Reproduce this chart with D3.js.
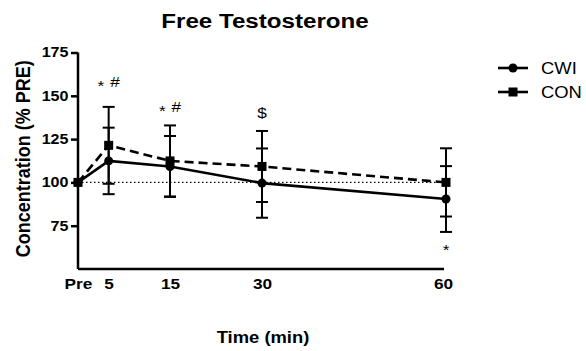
<!DOCTYPE html>
<html>
<head>
<meta charset="utf-8">
<script src="https://cdn.jsdelivr.net/npm/d3@7"></script>
<style>
  html, body { margin: 0; padding: 0; background: #fff; }
  svg { display: block; font-family: "Liberation Sans", Arial, sans-serif; }
</style>
</head>
<body>
<svg id="chart" width="586" height="351"></svg>
<script>
// Time points (minutes after exercise; "Pre" = 0)
const times = [0, 5, 15, 30, 60];
const timeLabels = ["Pre", "5", "15", "30", "60"];

// Free testosterone, % of PRE
const cwiMean = [100, 112.4, 109.2, 99.6, 90.4];
const cwiSD   = [0, 19.2, 17.6, 20.0, 19.0];
const conMean = [100, 121.4, 112.4, 109.2, 100];
const conSD   = [0, 22.2, 20.5, 20.5, 19.7];

// Significance markers: time point and vertical position (axis units)
const markerTimes  = [5, 15, 30, 60];
const markerTexts  = ["* #", "* #", "$", "*"];
const markerLevels = [158, 143.5, 140, 63];

const yTicks = [75, 100, 125, 150, 175];

// Horizontal stretch applied to all lettering
const SX = 1.15;

const svg = d3.select("#chart");

const x = d3.scaleLinear().domain([0, 60]).range([78, 446]);
const y = d3.scaleLinear().domain([50, 175]).range([269, 52.5]);

function label(px, py, txt, size, weight, anchor, rotate) {
  return svg.append("text")
    .attr("transform", `translate(${px},${py}) scale(${SX},1)` + (rotate ? ` rotate(${rotate})` : ""))
    .attr("text-anchor", anchor || "middle")
    .attr("font-size", size)
    .attr("font-weight", weight || "normal")
    .attr("fill", "#000")
    .text(txt);
}

// Title
label(265, 28, "Free Testosterone", 21, "bold");

// Y axis
const yAxis = d3.axisLeft(y).tickValues(yTicks).tickSize(7).tickPadding(2);
const gy = svg.append("g").attr("transform", `translate(${x(0)},0)`).call(yAxis);
gy.select(".domain").attr("stroke", "#000").attr("stroke-width", 2.5)
  .attr("d", `M0,${y(175)}V${y(50)}`);
gy.selectAll(".tick line").attr("stroke", "#000").attr("stroke-width", 2.5);
gy.selectAll(".tick text")
  .attr("font-size", 14).attr("font-weight", "bold").attr("fill", "#000")
  .attr("font-family", "Liberation Sans, Arial, sans-serif")
  .attr("x", -9.5 / SX)
  .attr("transform", `scale(${SX},1)`);

// X axis (labels only, no tick marks)
const xAxis = d3.axisBottom(x).tickValues(times)
  .tickFormat((d, i) => timeLabels[i]).tickSize(0).tickPadding(9);
const gx = svg.append("g").attr("transform", `translate(0,${y(50)})`).call(xAxis);
gx.select(".domain").attr("stroke", "#000").attr("stroke-width", 2.5)
  .attr("d", `M${x(0)},0H${x(60) - 2}`);
gx.selectAll(".tick text")
  .attr("font-size", 15).attr("font-weight", "bold").attr("fill", "#000")
  .attr("font-family", "Liberation Sans, Arial, sans-serif")
  .attr("transform", `scale(${SX},1)`);
gx.selectAll(".tick").filter(d => d === 60).select("text").attr("dx", -3 / SX);

// Axis titles
label(30, (y(175) + y(50)) / 2 - 2, "Concentration (% PRE)", 18, "bold", "middle", -90);
label(263, 343, "Time (min)", 16, "bold");

// Dotted baseline at 100 %
svg.append("line")
  .attr("x1", x(0)).attr("x2", x(60))
  .attr("y1", y(100)).attr("y2", y(100))
  .attr("stroke", "#000").attr("stroke-width", 1.2)
  .attr("stroke-dasharray", "1.5,2.5");

// Error bars (mean ± SD)
function errorBars(means, sds) {
  const g = svg.append("g").attr("stroke", "#000").attr("stroke-width", 2);
  times.forEach((t, i) => {
    if (!sds[i]) return;
    const cx = x(t), hi = y(means[i] + sds[i]), lo = y(means[i] - sds[i]);
    g.append("line").attr("x1", cx).attr("x2", cx).attr("y1", hi).attr("y2", lo);
    g.append("line").attr("x1", cx - 6).attr("x2", cx + 6).attr("y1", hi).attr("y2", hi);
    g.append("line").attr("x1", cx - 6).attr("x2", cx + 6).attr("y1", lo).attr("y2", lo);
  });
}
errorBars(conMean, conSD);
errorBars(cwiMean, cwiSD);

const line = d3.line().x((d, i) => x(times[i])).y(d => y(d));

// CON (dashed, squares)
svg.append("path").datum(conMean)
  .attr("d", line).attr("fill", "none")
  .attr("stroke", "#000").attr("stroke-width", 2.6)
  .attr("stroke-dasharray", "9,5");
svg.selectAll("rect.con").data(conMean).enter().append("rect")
  .attr("class", "con")
  .attr("x", (d, i) => x(times[i]) - 4.5).attr("y", d => y(d) - 4.5)
  .attr("width", 9).attr("height", 9).attr("fill", "#000");

// CWI (solid, circles)
svg.append("path").datum(cwiMean)
  .attr("d", line).attr("fill", "none")
  .attr("stroke", "#000").attr("stroke-width", 2.6);
svg.selectAll("circle.cwi").data(cwiMean).enter().append("circle")
  .attr("class", "cwi")
  .attr("cx", (d, i) => x(times[i])).attr("cy", d => y(d))
  .attr("r", 4.5).attr("fill", "#000");

// Significance markers; asterisks are lowered to sit mid-height
markerTimes.forEach((t, i) => {
  const txt = label(x(t), y(markerLevels[i]) + 5, "", 15, "normal");
  txt.text(null);
  markerTexts[i].split("").forEach(ch => {
    const ts = txt.append("tspan").text(ch);
    if (ch === "*") ts.attr("dy", 4);
    else if (ch === "#") ts.attr("dy", -4).attr("dx", 1);
  });
});

// Legend
const legendNames = ["CWI", "CON"];
const legendY = [68, 92];
legendNames.forEach((name, i) => {
  const ly = legendY[i];
  svg.append("line").attr("x1", 498).attr("x2", 528)
    .attr("y1", ly).attr("y2", ly)
    .attr("stroke", "#000").attr("stroke-width", 2.6);
  if (i === 0) {
    svg.append("circle").attr("cx", 513).attr("cy", ly).attr("r", 4.5).attr("fill", "#000");
  } else {
    svg.append("rect").attr("x", 508.5).attr("y", ly - 4.5)
      .attr("width", 9).attr("height", 9).attr("fill", "#000");
  }
  label(541, ly + 5.5, name, 16, "normal", "start");
});
</script>
</body>
</html>
